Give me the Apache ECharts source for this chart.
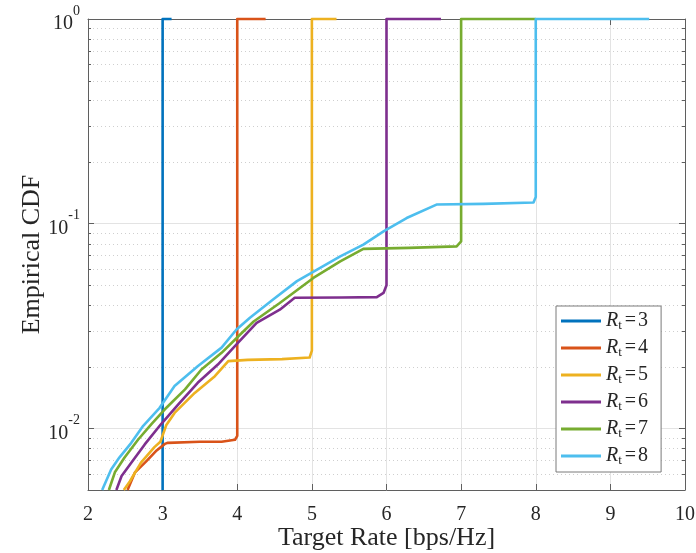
<!DOCTYPE html>
<html><head><meta charset="utf-8">
<script src="https://cdn.jsdelivr.net/npm/echarts@6/dist/echarts.min.js"></script>
<style>html,body{margin:0;padding:0;background:#fff}#c{width:696px;height:553px}</style>
</head><body><div id="c"></div>
<script>
// ---- axis ranges / ticks ----
const xMin = 2, xMax = 10, xInterval = 1;
const yMin = 0.005, yMax = 1;
const minorTickValues = [0.006, 0.007, 0.008, 0.009,
  0.02, 0.03, 0.04, 0.05, 0.06, 0.07, 0.08, 0.09,
  0.2, 0.3, 0.4, 0.5, 0.6, 0.7, 0.8, 0.9];

// ---- series ----
const seriesNames = ['Rt=3', 'Rt=4', 'Rt=5', 'Rt=6', 'Rt=7', 'Rt=8'];
const rtValues = ['3', '4', '5', '6', '7', '8'];
const colors = ['#0072BD', '#D95319', '#EDB120', '#7E2F8E', '#77AC30', '#4DBEEE'];

const rt3X = [3.0, 3.0, 3.12];
const rt3Y = [0.005, 1, 1];

const rt4X = [2.53, 2.63, 2.78, 2.92, 3.03, 3.07, 3.5, 3.79, 3.97, 4.0, 4.0, 4.38];
const rt4Y = [0.005, 0.0061, 0.0069, 0.0078, 0.0084, 0.0085, 0.0086, 0.0086, 0.0088, 0.0092, 1, 1];

const rt5X = [2.48, 2.56, 2.71, 2.89, 2.97, 3.05, 3.16, 3.43, 3.70, 3.88, 4.14, 4.6, 4.97, 5.0, 5.0, 5.33];
const rt5Y = [0.005, 0.0055, 0.0068, 0.0081, 0.0086, 0.0104, 0.0119, 0.0149, 0.018, 0.0213, 0.0216, 0.0218, 0.0222, 0.024, 1, 1];

const rt6X = [2.38, 2.45, 2.58, 2.76, 2.98, 3.21, 3.47, 3.74, 3.99, 4.26, 4.57, 4.77, 5.4, 5.87, 5.96, 6.0, 6.0, 6.73];
const rt6Y = [0.005, 0.00585, 0.0068, 0.00835, 0.0105, 0.0131, 0.0167, 0.0205, 0.0257, 0.0328, 0.038, 0.0435, 0.0436, 0.0438, 0.0459, 0.05, 1, 1];

const rt7X = [2.28, 2.36, 2.49, 2.67, 2.85, 3.03, 3.30, 3.52, 3.79, 4.05, 4.22, 4.57, 5.02, 5.38, 5.69, 6.3, 6.94, 7.0, 7.0, 8.0];
const rt7Y = [0.005, 0.0061, 0.0072, 0.0088, 0.0105, 0.0124, 0.0155, 0.0194, 0.0234, 0.029, 0.0333, 0.041, 0.0543, 0.0655, 0.0753, 0.0762, 0.0775, 0.082, 1, 1];

const rt8X = [2.19, 2.31, 2.42, 2.58, 2.74, 2.96, 3.16, 3.47, 3.79, 3.99, 4.17, 4.48, 4.80, 5.07, 5.38, 5.69, 5.96, 6.27, 6.67, 7.3, 7.97, 8.0, 8.0, 9.52];
const rt8Y = [0.005, 0.0063, 0.0072, 0.0085, 0.0103, 0.0126, 0.0161, 0.0201, 0.0248, 0.0304, 0.0347, 0.0426, 0.0524, 0.0597, 0.0692, 0.079, 0.0917, 0.1066, 0.124, 0.125, 0.127, 0.135, 1, 1];

const allX = [rt3X, rt4X, rt5X, rt6X, rt7X, rt8X];
const allY = [rt3Y, rt4Y, rt5Y, rt6Y, rt7Y, rt8Y];

// ---- styling ----
const FONT = "'Liberation Serif', 'Times New Roman', serif";
const AXIS_COLOR = '#5f5f5f';
const GRID_COLOR = '#e3e3e3';
const MINOR_COLOR = '#cfcfcf';

const chart = echarts.init(document.getElementById('c'), null, {renderer: 'canvas'});

const lineSeries = seriesNames.map((name, i) => ({
  name: name,
  type: 'line',
  xAxisIndex: 0, yAxisIndex: 0,
  data: allX[i].map((x, k) => [x, allY[i][k]]),
  showSymbol: false,
  symbol: 'none',
  clip: false,
  animation: false,
  lineStyle: {color: colors[i], width: 2.6, join: 'round'},
  itemStyle: {color: colors[i]},
  z: 3
}));

const minorSeries = {
  type: 'custom',
  xAxisIndex: 0, yAxisIndex: 0,
  silent: true,
  animation: false,
  z: 1,
  encode: {x: 0, y: 1},
  data: minorTickValues.map(v => [xMin, v]),
  renderItem: function (params, api) {
    const v = api.value(1);
    const p1 = api.coord([xMin, v]);
    const p2 = api.coord([xMax, v]);
    const y = Math.round(p1[1]) + 0.5;
    return {
      type: 'group',
      children: [
        {type: 'line', shape: {x1: p1[0] + 1, y1: y, x2: p2[0] - 1, y2: y},
          style: {stroke: MINOR_COLOR, lineWidth: 1, lineDash: [1, 3]}},
        {type: 'line', shape: {x1: p1[0], y1: y, x2: p1[0] + 3, y2: y},
          style: {stroke: AXIS_COLOR, lineWidth: 1}},
        {type: 'line', shape: {x1: p2[0] - 3, y1: y, x2: p2[0], y2: y},
          style: {stroke: AXIS_COLOR, lineWidth: 1}}
      ]
    };
  }
};

function yLabel(value) {
  const e = Math.round(Math.log10(value));
  if (Math.abs(Math.log10(value) - e) > 1e-6) return '';
  return '{b|10}{e|' + e + '}';
}

const option = {
  backgroundColor: '#ffffff',
  animation: false,
  grid: {left: 88, right: 11, top: 19, bottom: 63, containLabel: false, outerBoundsMode: 'none'},
  legend: {
    show: true,
    data: seriesNames,
    orient: 'vertical',
    left: 556, top: 306,
    padding: [3, 13, 4, 5],
    itemGap: 3,
    itemWidth: 40,
    itemHeight: 3,
    icon: 'rect',
    backgroundColor: '#ffffff',
    borderColor: '#7a7a7a',
    borderWidth: 1,
    borderRadius: 0,
    formatter: function (name) {
      const i = seriesNames.indexOf(name);
      return '{i|R}{s|t}{q|=}{n|' + rtValues[i] + '}';
    },
    textStyle: {
      fontFamily: FONT, fontSize: 20, color: '#262626', lineHeight: 24,
      rich: {
        i: {fontFamily: FONT, fontSize: 20, fontStyle: 'italic', color: '#262626', lineHeight: 24},
        s: {fontFamily: FONT, fontSize: 13, color: '#262626', verticalAlign: 'bottom', lineHeight: 24, padding: [0, 0, 1, 0]},
        q: {fontFamily: FONT, fontSize: 20, color: '#262626', lineHeight: 24, padding: [0, 2, 0, 3]},
        n: {fontFamily: FONT, fontSize: 20, color: '#262626', lineHeight: 24}
      }
    }
  },
  xAxis: [{
    type: 'value', position: 'bottom',
    min: xMin, max: xMax, interval: xInterval,
    name: 'Target Rate [bps/Hz]',
    nameLocation: 'middle', nameGap: 35,
    nameMoveOverlap: false,
    nameTextStyle: {fontFamily: FONT, fontSize: 26, color: '#262626'},
    axisLine: {show: true, lineStyle: {color: AXIS_COLOR, width: 1}},
    axisTick: {show: true, inside: true, length: 6, lineStyle: {color: AXIS_COLOR}},
    axisLabel: {fontFamily: FONT, fontSize: 20, color: '#262626', margin: 15},
    splitLine: {show: true, lineStyle: {color: GRID_COLOR, width: 1}}
  }, {
    type: 'value', position: 'top',
    min: xMin, max: xMax, interval: xInterval,
    axisLine: {show: true, onZero: false, lineStyle: {color: AXIS_COLOR, width: 1}},
    axisTick: {show: true, inside: true, length: 6, lineStyle: {color: AXIS_COLOR}},
    axisLabel: {show: false},
    splitLine: {show: false}
  }],
  yAxis: [{
    type: 'log', logBase: 10, position: 'left',
    min: yMin, max: yMax,
    name: 'Empirical CDF',
    nameLocation: 'middle', nameGap: 43, nameRotate: 90,
    nameMoveOverlap: false,
    nameTextStyle: {fontFamily: FONT, fontSize: 26, color: '#262626'},
    axisLine: {show: true, lineStyle: {color: AXIS_COLOR, width: 1}},
    axisTick: {show: true, inside: true, length: 6, lineStyle: {color: AXIS_COLOR}},
    axisLabel: {
      fontFamily: FONT, color: '#262626', margin: 8,
      showMinLabel: false,
      formatter: yLabel,
      rich: {
        b: {fontFamily: FONT, fontSize: 20, color: '#262626', lineHeight: 30, verticalAlign: 'bottom'},
        e: {fontFamily: FONT, fontSize: 14, color: '#262626', verticalAlign: 'top', lineHeight: 30}
      }
    },
    splitLine: {show: true, lineStyle: {color: GRID_COLOR, width: 1}}
  }, {
    type: 'log', logBase: 10, position: 'right',
    min: yMin, max: yMax,
    axisLine: {show: true, onZero: false, lineStyle: {color: AXIS_COLOR, width: 1}},
    axisTick: {show: true, inside: true, length: 6, lineStyle: {color: AXIS_COLOR}},
    axisLabel: {show: false},
    splitLine: {show: false}
  }],
  series: [minorSeries].concat(lineSeries)
};

chart.setOption(option);
</script>
</body></html>
